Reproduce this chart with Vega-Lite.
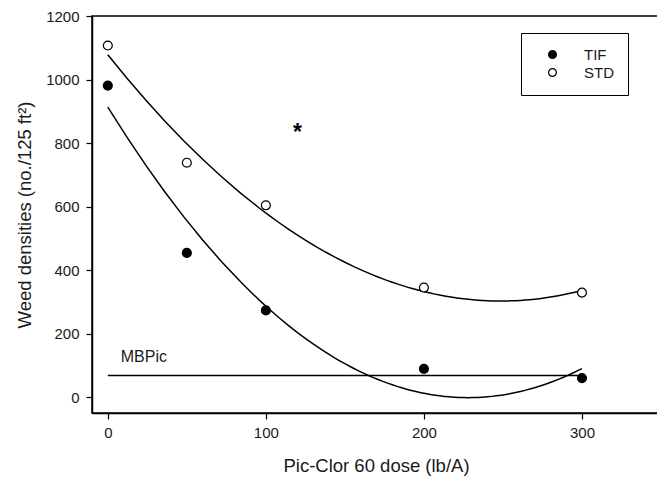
{
  "$schema": "https://vega.github.io/schema/vega-lite/v6.json",
  "autosize": "none",
  "padding": {"left": 92, "top": 16, "right": 0, "bottom": 68},
  "width": 569,
  "height": 397,
  "config": {
    "font": "Liberation Sans",
    "view": {"stroke": "black", "strokeWidth": 1.5},
    "axis": {"grid": false, "domainColor": "black", "tickColor": "black", "labelColor": "#1a1a1a", "titleColor": "#1a1a1a", "labelFontSize": 15, "titleFontSize": 18.5, "titleFontWeight": "normal", "tickSize": 6, "domainWidth": 1.5, "tickWidth": 1.2},
    "legend": {"strokeColor": "black"}
  },
  "datasets": {
    "pts": [
      {"dose": 0, "dens": 981, "trt": "TIF"},
      {"dose": 50, "dens": 454, "trt": "TIF"},
      {"dose": 100, "dens": 273, "trt": "TIF"},
      {"dose": 200, "dens": 89, "trt": "TIF"},
      {"dose": 300, "dens": 60, "trt": "TIF"},
      {"dose": 0, "dens": 1107, "trt": "STD"},
      {"dose": 50, "dens": 738, "trt": "STD"},
      {"dose": 100, "dens": 604, "trt": "STD"},
      {"dose": 200, "dens": 345, "trt": "STD"},
      {"dose": 300, "dens": 329, "trt": "STD"}
    ]
  },
  "layer": [
    {
      "data": {"name": "pts"},
      "transform": [{"regression": "dens", "on": "dose", "groupby": ["trt"], "method": "poly", "order": 2, "extent": [0, 300]}],
      "mark": {"type": "line", "color": "black", "strokeWidth": 1.5},
      "encoding": {
        "x": {"field": "dose", "type": "quantitative", "scale": {"domain": [-10, 350], "nice": false, "zero": false}, "axis": {"values": [0, 100, 200, 300], "title": "Pic-Clor 60 dose (lb/A)", "titleX": 284, "titlePadding": 16, "labelPadding": 6}},
        "y": {"field": "dens", "type": "quantitative", "scale": {"domain": [-50, 1200], "nice": false, "zero": false}, "axis": {"values": [0, 200, 400, 600, 800, 1000, 1200], "format": "d", "title": "Weed densities (no./125 ft²)", "titlePadding": 11, "labelPadding": 7}},
        "detail": {"field": "trt"}
      }
    },
    {
      "data": {"values": [{"x0": 0, "x1": 300, "y": 68}]},
      "mark": {"type": "rule", "color": "black", "strokeWidth": 1.5},
      "encoding": {
        "x": {"field": "x0", "type": "quantitative"},
        "x2": {"field": "x1"},
        "y": {"field": "y", "type": "quantitative"}
      }
    },
    {
      "data": {"values": [{"x": 8.2, "y": 111, "label": "MBPic"}]},
      "mark": {"type": "text", "align": "left", "baseline": "alphabetic", "fontSize": 16, "color": "#1a1a1a"},
      "encoding": {
        "x": {"field": "x", "type": "quantitative"},
        "y": {"field": "y", "type": "quantitative"},
        "text": {"field": "label"}
      }
    },
    {
      "data": {"values": [{"x": 120, "y": 850, "label": "*"}]},
      "mark": {"type": "text", "align": "center", "baseline": "alphabetic", "fontSize": 23, "fontWeight": "bold", "dy": 13, "color": "black"},
      "encoding": {
        "x": {"field": "x", "type": "quantitative"},
        "y": {"field": "y", "type": "quantitative"},
        "text": {"field": "label"}
      }
    },
    {
      "data": {"name": "pts"},
      "mark": {"type": "point", "filled": false, "stroke": "black", "strokeWidth": 1.2, "size": 80, "opacity": 1},
      "encoding": {
        "x": {"field": "dose", "type": "quantitative"},
        "y": {"field": "dens", "type": "quantitative"},
        "fill": {"field": "trt", "type": "nominal", "scale": {"domain": ["TIF", "STD"], "range": ["black", "white"]},
          "legend": {"title": null, "orient": "none", "legendX": 429, "legendY": 17, "padding": 14, "symbolOffset": 10, "labelOffset": 24, "rowPadding": 2, "symbolSize": 60, "symbolStrokeColor": "black", "symbolStrokeWidth": 1.2, "symbolType": "circle", "labelFontSize": 15, "labelColor": "#1a1a1a"}}
      }
    }
  ]
}
